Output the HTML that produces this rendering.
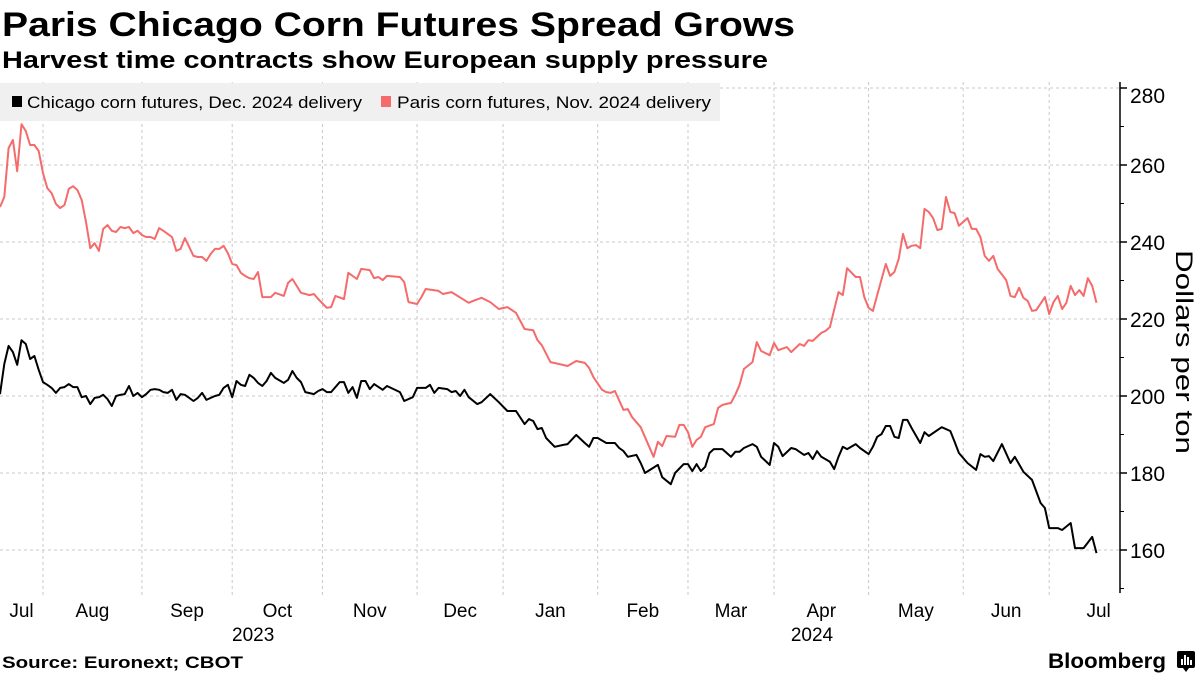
<!DOCTYPE html>
<html><head><meta charset="utf-8">
<style>
html,body{margin:0;padding:0;background:#fff;}
svg{display:block;font-family:"Liberation Sans",sans-serif;}
</style></head>
<body>
<svg id="chart" width="1200" height="675" viewBox="0 0 1200 675" xmlns="http://www.w3.org/2000/svg">
  <text x="2" y="36" font-size="34" font-weight="bold" fill="#000" textLength="793" lengthAdjust="spacingAndGlyphs">Paris Chicago Corn Futures Spread Grows</text>
  <text x="2" y="68" font-size="24" font-weight="bold" fill="#000" textLength="766" lengthAdjust="spacingAndGlyphs">Harvest time contracts show European supply pressure</text>
  <g id="grid"></g>
  <g>
    <rect x="0" y="83" width="720" height="38" fill="#f0f0f0"/>
    <g>
      <rect x="12" y="96" width="10" height="11" fill="#000"/>
      <text x="27" y="108" font-size="17" fill="#000" textLength="335" lengthAdjust="spacingAndGlyphs">Chicago corn futures, Dec. 2024 delivery</text>
    </g>
    <g>
      <rect x="381" y="96" width="10" height="11" fill="#f56b6b"/>
      <text x="397" y="108" font-size="17" fill="#000" textLength="314" lengthAdjust="spacingAndGlyphs">Paris corn futures, Nov. 2024 delivery</text>
    </g>
  </g>
  <g id="series"></g>
  <g id="axes"></g>
  <text transform="translate(1176,352) rotate(90)" text-anchor="middle" font-size="24" fill="#000" textLength="204" lengthAdjust="spacingAndGlyphs">Dollars per ton</text>
  <text x="2" y="668" font-size="17" font-weight="bold" fill="#000" textLength="241" lengthAdjust="spacingAndGlyphs">Source: Euronext; CBOT</text>
  <text x="1048" y="668" font-size="21" font-weight="bold" fill="#000" textLength="118" lengthAdjust="spacingAndGlyphs">Bloomberg</text>
  <g>
    <rect x="1177" y="651" width="18" height="17" rx="2" fill="#000"/>
    <path d="M1183 668 L1186 672 L1189 668 Z" fill="#000"/>
    <rect x="1181" y="659" width="2" height="6" fill="#fff"/>
    <rect x="1184" y="655" width="2" height="10" fill="#fff"/>
    <rect x="1187" y="657" width="2" height="8" fill="#fff"/>
    <rect x="1190" y="660" width="2" height="5" fill="#fff"/>
  </g>
</svg>
<script>
// Trading-day index (0 = first trading day shown, mid-Jul 2023) and prices in $/ton
const parisDays = [0,1,2,3,4,5,6,7,8,9,10,11,12,13,14,15,16,17,18,19,20,21,22,23,24,25,26,27,28,29,30,31,32,33,34,35,36,37,38,39,40,41,42,43,45,46,47,48,49,50,51,52,53,54,55,56,57,58,59,60,61,62,63,64,66,67,68,70,72,73,74,76,77,78,80,81,83,84,86,87,88,89,90,93,94,95,97,98,99,102,103,105,109,110,112,114,116,118,120,122,124,125,126,128,130,132,134,136,137,138,140,141,142,143,145,146,147,149,152,153,154,155,157,158,159,160,161,162,163,164,166,167,168,170,171,172,173,175,176,177,179,180,181,183,184,186,187,188,189,191,192,193,195,196,197,199,200,201,202,203,204,206,207,208,209,210,211,212,213,214,215,216,217,218,219,220,221,222,223,225,226,227,228,229,230,231,232,234,235,236,237,238,239,240,241,243,244,245,246,247,248,249,250,251,252,253,254,255];
const parisValues = [249.1,251.7,264.4,266.5,258.4,270.6,268.8,265.2,265.2,263.6,257.9,254.0,252.7,249.9,248.8,249.6,253.8,254.5,253.5,250.9,245.2,238.4,239.7,237.7,243.4,244.4,242.9,242.6,243.9,243.6,243.9,242.3,242.9,241.8,241.3,241.3,240.8,243.6,242.9,242.1,241.3,237.7,238.2,241.0,236.4,236.1,236.1,235.1,236.9,238.2,238.2,239.0,237.1,234.3,234.0,232.0,231.2,230.6,230.4,232.2,225.7,225.7,225.7,226.8,226.0,229.4,230.4,226.8,226.2,226.5,225.2,222.9,223.1,226.0,225.2,232.0,230.4,233.0,232.7,230.6,230.9,230.1,231.2,230.9,229.6,224.4,223.9,225.7,227.8,227.3,226.5,227.0,224.2,224.7,225.5,224.4,222.6,223.1,221.6,217.4,217.1,214.5,213.2,208.8,208.3,207.8,209.1,208.6,207.3,204.9,201.6,201.0,200.8,201.3,196.4,196.6,194.5,191.9,184.2,188.1,187.0,189.6,189.4,192.5,192.5,190.6,186.8,188.6,189.4,191.9,192.7,196.9,197.7,198.2,200.3,202.9,207.0,208.8,214.0,211.7,210.6,213.8,211.9,212.7,211.4,213.5,213.0,214.5,214.3,216.4,216.9,217.9,227.0,226.2,233.2,230.9,230.9,225.7,222.9,222.1,226.2,234.3,231.2,232.2,235.6,242.1,238.4,239.0,239.2,238.4,248.6,247.8,246.2,243.1,243.4,251.7,247.8,247.5,244.2,246.2,243.4,243.4,241.3,236.4,235.1,236.4,233.0,230.1,226.0,225.7,228.1,225.5,224.7,222.1,222.3,225.7,221.3,224.4,226.0,222.6,224.2,228.6,226.2,227.5,226.0,230.6,228.6,224.2];
const chicagoDays = [0,1,2,3,4,5,6,7,8,9,10,11,12,13,14,15,16,17,18,19,20,21,22,23,24,25,26,27,28,29,30,31,32,33,34,35,36,37,38,39,40,41,42,43,45,46,47,48,49,50,51,52,53,54,55,56,57,58,59,60,61,62,63,64,66,67,68,69,70,71,73,74,75,76,77,79,80,81,82,83,84,85,86,87,89,90,93,94,96,97,99,100,101,102,104,105,106,107,108,109,111,112,114,116,118,120,122,123,124,125,126,127,129,131,132,134,136,137,138,139,141,143,144,145,146,148,149,150,153,154,156,157,159,160,161,162,163,164,165,166,168,170,171,172,173,175,176,177,179,180,181,182,184,185,187,188,189,190,191,193,194,195,196,197,199,200,202,203,204,205,206,207,208,209,210,211,212,214,215,216,219,221,222,223,225,227,228,229,230,231,233,235,236,238,240,242,243,244,246,247,249,250,252,254,255];
const chicagoValues = [200.5,208.3,213.0,211.4,208.1,214.5,213.5,209.6,210.4,206.8,203.6,202.9,202.1,200.8,202.1,202.3,203.1,202.3,202.3,199.7,200.0,197.9,199.5,199.7,200.3,199.2,197.4,200.0,200.3,200.5,202.6,200.0,200.8,199.7,200.5,201.6,201.8,201.6,201.0,200.8,201.6,199.0,200.5,200.3,198.7,199.5,200.8,199.0,199.5,200.0,200.3,202.1,202.9,199.7,203.9,202.9,202.6,205.5,204.7,203.4,202.6,203.9,206.0,204.7,203.4,204.2,206.5,204.7,203.6,201.0,200.5,201.3,201.8,201.0,201.0,203.6,203.6,200.8,202.3,199.5,203.9,203.9,201.8,203.1,201.6,202.6,201.0,198.7,199.7,202.1,202.1,202.9,200.8,202.1,201.8,201.0,201.3,200.0,201.6,199.7,197.9,198.4,200.5,198.4,196.1,196.1,192.7,194.0,193.5,191.4,191.7,189.1,186.8,187.3,187.5,189.9,187.8,186.8,189.1,189.1,187.8,187.8,186.5,185.7,184.2,184.7,182.6,180.0,182.1,178.9,177.1,180.0,182.3,182.3,180.5,182.3,180.5,181.6,185.2,186.2,186.2,184.2,185.5,185.5,186.5,187.5,186.8,184.2,182.1,187.8,186.8,184.4,186.5,186.2,184.7,185.2,183.6,185.7,184.2,182.9,181.0,184.2,186.8,186.2,187.5,186.5,184.9,186.8,189.4,190.1,192.2,192.2,189.4,189.1,193.8,193.8,191.7,187.8,190.6,189.6,191.9,190.9,188.1,185.2,182.6,180.8,184.9,184.2,184.4,183.1,187.5,182.6,184.2,180.3,178.2,172.2,170.9,165.7,165.7,165.2,167.0,160.5,160.5,163.4,159.2];
const monthStarts = [0,10,33,54,75,97,117,139,160,180,202,224,244,267];
const monthLabels = ["Jul","Aug","Sep","Oct","Nov","Dec","Jan","Feb","Mar","Apr","May","Jun","Jul"];
const yearLabels = ["2023","2024"];
const yTicks = [160,180,200,220,240,260,280];

const NS = "http://www.w3.org/2000/svg";
const plotL = 0, plotR = 1120, plotBottom = 593;
const dayMax = 260.47;
function xScale(d){ return plotL + d / dayMax * (plotR - plotL); }
function yScale(v){ return 550 - (v - 160) * 3.85; }
function mk(tag, attrs, parent){
  const el = document.createElementNS(NS, tag);
  for (const k in attrs) el.setAttribute(k, attrs[k]);
  parent.appendChild(el);
  return el;
}
const grid = document.getElementById("grid");
const axes = document.getElementById("axes");
const series = document.getElementById("series");

yTicks.forEach((t, i) => {
  const y = yScale(t);
  const g = mk("line", {x1: 0, x2: plotR, y1: y, y2: y, stroke: "#c8c8c8", "stroke-width": 1, "stroke-dasharray": "3,3"}, grid);
  
  
  const tk = mk("line", {x1: plotR, x2: plotR + 7, y1: y, y2: y, stroke: "#000", "stroke-width": 1.5}, axes);
  
  
  const ly = (i === yTicks.length - 1) ? y + 15 : y + 8;
  const lb = mk("text", {x: plotR + 10, y: ly, "font-size": 21, fill: "#000"}, axes);
  lb.textContent = t;
  
  
  if (i < yTicks.length - 1) {
    const ym = yScale(t + 10);
    const mt = mk("line", {x1: plotR, x2: plotR + 4, y1: ym, y2: ym, stroke: "#000", "stroke-width": 1}, axes);
    
    
  }
});
const ym150 = yScale(150);
const mt150 = mk("line", {x1: plotR, x2: plotR + 4, y1: ym150, y2: ym150, stroke: "#000", "stroke-width": 1}, axes);



const axisLine = mk("line", {x1: plotR, x2: plotR, y1: 82, y2: plotBottom, stroke: "#000", "stroke-width": 1.5}, axes);



for (let i = 1; i < monthStarts.length - 1; i++) {
  const x = xScale(monthStarts[i]);
  const g = mk("line", {x1: x, x2: x, y1: 82, y2: 596, stroke: "#c8c8c8", "stroke-width": 1, "stroke-dasharray": "3,3"}, grid);
  
  
}
monthLabels.forEach((m, i) => {
  const x = (xScale(monthStarts[i]) + xScale(monthStarts[i + 1])) / 2;
  const t = mk("text", {x: x, y: 617, "text-anchor": "middle", "font-size": 19, fill: "#000"}, axes);
  t.textContent = m;
  
  
});
[[yearLabels[0], 3, 21], [yearLabels[1], 9, 38]].forEach(([yl, mi, off]) => {
  const x = xScale(monthStarts[mi]) + off;
  const t = mk("text", {x: x, y: 641, "text-anchor": "middle", "font-size": 19, fill: "#000"}, axes);
  t.textContent = yl;
  
  
});

function drawLine(days, vals, color, name){
  const d = days.map((dd, i) => (i ? "L" : "M") + xScale(dd).toFixed(1) + " " + yScale(vals[i]).toFixed(1)).join(" ");
  const p = mk("path", {d: d, fill: "none", stroke: color, "stroke-width": 2, "stroke-linejoin": "round"}, series);
  
  
}
drawLine(parisDays, parisValues, "#f56b6b", "paris-series-line");
drawLine(chicagoDays, chicagoValues, "#000000", "chicago-series-line");
</script>
</body></html>
